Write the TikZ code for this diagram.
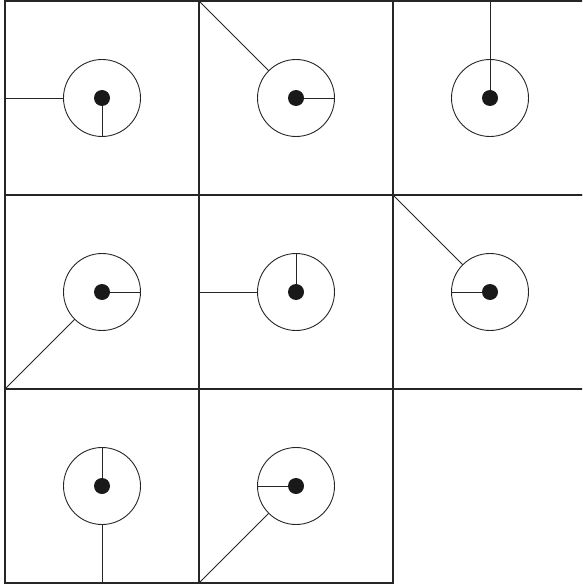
\documentclass[tikz,border=0pt]{standalone}
\usetikzlibrary{positioning}
\tikzset{
  cellbox/.style={draw=black!85, line width=1.4pt, minimum size=194pt, inner sep=0pt, outer sep=0pt},
  ring/.style={circle, draw=black!85, line width=0.9pt, minimum size=77pt, inner sep=0pt, outer sep=0pt},
  hub/.style={circle, fill=black!90, minimum size=16pt, inner sep=0pt, outer sep=0pt},
  spoke/.style={black!85, line width=0.9pt},
}
\begin{document}
\begin{tikzpicture}[x=1pt, y=-1pt]
\useasboundingbox (0,0) rectangle (582,585);
\clip (0,0) rectangle (582,585);
% cell number / centre / radius angle / exit angle / cell anchor
\foreach \n/\cx/\cy/\ra/\oa/\ca in {
    1/102/98/270/180/west,
    2/296/98/0/135/north west,
    3/490/98/90/90/north,
    4/102/292/0/225/south west,
    5/296/292/90/180/west,
    6/490/292/180/135/north west,
    7/102/486/90/270/south,
    8/296/486/180/225/south west} {
  \node[cellbox] (cell\n) at (\cx,\cy) {};
  \node[ring] (ring\n) at (\cx,\cy) {};
  \draw[spoke] (ring\n.center) -- (ring\n.\ra);
  \draw[spoke] (ring\n.\oa) -- (cell\n.\ca);
  \node[hub] (hub\n) at (\cx,\cy) {};
}
\end{tikzpicture}
\end{document}
